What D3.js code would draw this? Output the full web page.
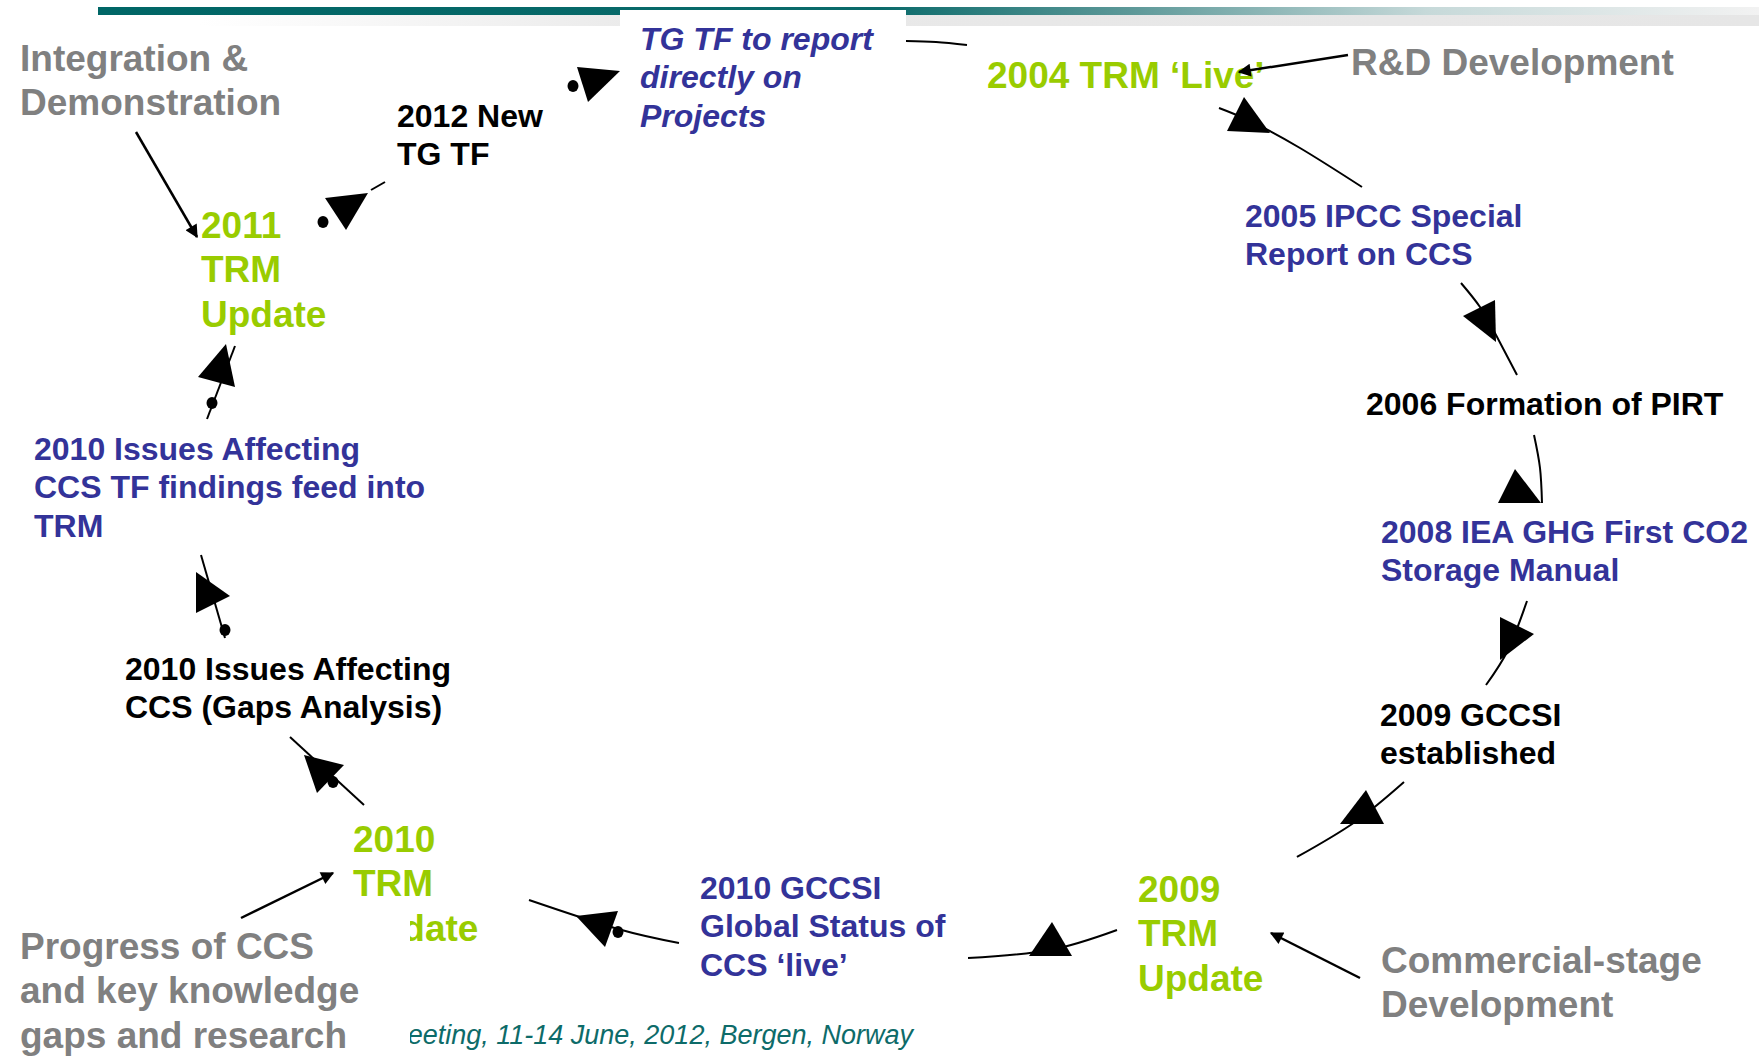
<!DOCTYPE html>
<html>
<head>
<meta charset="utf-8">
<script src="https://cdn.jsdelivr.net/npm/d3@7"></script>
<style>
  body { margin: 0; background: #fff; overflow: hidden; }
  text { font-family: "Liberation Sans", Arial, sans-serif; font-weight: bold; }
  text.footer { font-weight: normal; font-style: italic; }
</style>
</head>
<body>
<div id="chart"></div>
<script>
// Libellés du cycle (texte seulement)
const stageLabels = [
    ["R&D Development"],
    ["Commercial-stage", "Development"],
    ["Progress of CCS", "and key knowledge", "gaps and research"],
    ["Integration &", "Demonstration"]
];
const trmLabels = [
    ["2004 TRM ‘Live’"],
    ["2009", "TRM", "Update"],
    ["2010", "TRM", "Update"],
    ["2011", "TRM", "Update"]
];
const reportLabels = [
    ["2005 IPCC Special", "Report on CCS"],
    ["2008 IEA GHG First CO2", "Storage Manual"],
    ["2010 GCCSI", "Global Status of", "CCS ‘live’"],
    ["2010 Issues Affecting", "CCS TF findings feed into", "TRM"],
    ["TG TF to report", "directly on", "Projects"]
];
const eventLabels = [
    ["2006 Formation of PIRT"],
    ["2009 GCCSI", "established"],
    ["2010 Issues Affecting", "CCS (Gaps Analysis)"],
    ["2012 New", "TG TF"]
];
const footerText = "Meeting, 11-14 June, 2012, Bergen, Norway";

// Mise en page (coordonnées de la diapo, 1759 x 1056)
const stagePos = [[1351, 75], [1381, 973], [20, 959], [20, 71]];
const trmPos = [[987, 88], [1138, 902], [353, 852], [201, 238]];
const reportPos = [[1245, 227], [1381, 543], [700, 899], [34, 460], [640, 50]];
const eventPos = [[1366, 415], [1380, 726], [125, 680], [397, 127]];

// Connecteurs du cycle : tracé, pointe triangulaire, point éventuel
const links = [
    { path: [[906, 41], [936, 42], [967, 45]] },
    { path: [[1219, 108], [1250, 121], [1300, 148], [1362, 187]], head: [[1244, 97], [1227, 131], [1270, 133]] },
    { path: [[1461, 283], [1480, 307], [1496, 335], [1517, 375]], head: [[1463, 316], [1495, 300], [1496, 342]] },
    { path: [[1534, 435], [1540, 468], [1542, 503]], head: [[1515, 469], [1498, 503], [1541, 503]] },
    { path: [[1527, 601], [1508, 650], [1486, 685]], head: [[1500, 617], [1534, 634], [1500, 660]] },
    { path: [[1404, 782], [1355, 822], [1297, 857]], head: [[1366, 790], [1340, 824], [1384, 824]] },
    { path: [[1117, 930], [1050, 950], [968, 958]], head: [[1052, 922], [1029, 956], [1072, 956]] },
    { path: [[679, 943], [618, 929], [529, 900]], head: [[576, 916], [618, 911], [605, 947]], dot: [618, 932] },
    { path: [[364, 805], [290, 737]], head: [[304, 755], [344, 765], [317, 793]], dot: [333, 782] },
    { path: [[225, 638], [201, 555]], head: [[196, 572], [230, 596], [196, 613]], dot: [225, 630] },
    { path: [[207, 419], [235, 346]], head: [[226, 344], [198, 377], [235, 387]], dot: [212, 403] },
    { path: [[385, 182], [371, 190]], head: [[325, 198], [368, 193], [346, 230]], dot: [323, 222] },
    { path: [], head: [[577, 67], [620, 71], [588, 102]], dot: [573, 86] }
];

// Flèches des étapes (gris vers vert)
const stageArrows = [
    [[1348, 55], [1239, 72]],
    [[1360, 978], [1271, 933]],
    [[241, 918], [333, 873]],
    [[136, 132], [197, 237]]
];

const width = 1759;
const height = 1056;

const x = d3.scaleLinear().domain([0, 1759]).range([0, width]);
const y = d3.scaleLinear().domain([0, 1056]).range([0, height]);

const svg = d3.select("#chart")
    .append("svg")
    .attr("width", width)
    .attr("height", height);

const defs = svg.append("defs");

// Dégradé de la barre d'en-tête
const barGrad = defs.append("linearGradient")
    .attr("id", "barGrad")
    .attr("x1", "0%").attr("x2", "100%");
barGrad.append("stop").attr("offset", "0%").attr("stop-color", "#006666");
barGrad.append("stop").attr("offset", "47%").attr("stop-color", "#0a6a6a");
barGrad.append("stop").attr("offset", "62%").attr("stop-color", "#5c9898");
barGrad.append("stop").attr("offset", "80%").attr("stop-color", "#c6d9d9");
barGrad.append("stop").attr("offset", "100%").attr("stop-color", "#f2f2f2");

const bandGrad = defs.append("linearGradient")
    .attr("id", "bandGrad")
    .attr("x1", "0%").attr("x2", "100%");
bandGrad.append("stop").attr("offset", "0%").attr("stop-color", "#ffffff");
bandGrad.append("stop").attr("offset", "30%").attr("stop-color", "#e9e9e9");
bandGrad.append("stop").attr("offset", "100%").attr("stop-color", "#e6e6e6");

defs.append("marker")
    .attr("id", "arrow")
    .attr("viewBox", "0 0 10 10")
    .attr("refX", 9)
    .attr("refY", 5)
    .attr("markerUnits", "userSpaceOnUse")
    .attr("markerWidth", 17)
    .attr("markerHeight", 13)
    .attr("orient", "auto")
    .append("path")
    .attr("d", "M0,0 L10,5 L0,10 z")
    .attr("fill", "#000");

// En-tête
svg.append("rect")
    .attr("x", x(200)).attr("y", y(15))
    .attr("width", x(1759) - x(200)).attr("height", y(26) - y(15))
    .attr("fill", "url(#bandGrad)");
svg.append("rect")
    .attr("x", x(98)).attr("y", y(7))
    .attr("width", x(1759) - x(98)).attr("height", y(15) - y(7))
    .attr("fill", "url(#barGrad)");
svg.append("rect")
    .attr("x", x(620)).attr("y", y(10))
    .attr("width", x(906) - x(620)).attr("height", y(140) - y(10))
    .attr("fill", "#fff");

function drawLabels(group, labels, pos, opts) {
    const g = svg.append("g").attr("class", group);
    labels.forEach((lines, i) => {
        const t = g.append("text")
            .attr("x", x(pos[i][0]))
            .attr("y", y(pos[i][1]))
            .attr("fill", opts.color)
            .attr("font-size", opts.size + "px")
            .attr("font-style", opts.italic ? "italic" : "normal");
        lines.forEach((line, j) => {
            t.append("tspan")
                .attr("x", x(pos[i][0]))
                .attr("dy", j === 0 ? 0 : opts.size * 1.2)
                .text(line);
        });
    });
}

// Pied de page (début masqué par le cadre blanc)
svg.append("text")
    .attr("class", "footer")
    .attr("x", x(913))
    .attr("y", y(1044))
    .attr("text-anchor", "end")
    .attr("font-size", "27px")
    .attr("fill", "#0d6b69")
    .text(footerText);

drawLabels("trm", trmLabels, trmPos, { color: "#99cc00", size: 37 });

// Cadre blanc qui recouvre le bas gauche
svg.append("rect")
    .attr("x", 0).attr("y", y(905))
    .attr("width", x(410)).attr("height", height - y(905))
    .attr("fill", "#fff");

drawLabels("stage", stageLabels, stagePos, { color: "#808080", size: 37 });
drawLabels("report", reportLabels.slice(0, 4), reportPos.slice(0, 4), { color: "#333399", size: 32 });
drawLabels("report-it", reportLabels.slice(4), reportPos.slice(4), { color: "#333399", size: 32, italic: true });
drawLabels("event", eventLabels, eventPos, { color: "#000", size: 32 });

// Connecteurs
const line = d3.line()
    .x(d => x(d[0]))
    .y(d => y(d[1]))
    .curve(d3.curveNatural);

const linkG = svg.append("g").attr("class", "links");

linkG.selectAll("path.curve")
    .data(links.filter(d => d.path.length > 1))
    .enter()
    .append("path")
    .attr("class", "curve")
    .attr("d", d => line(d.path))
    .attr("fill", "none")
    .attr("stroke", "#000")
    .attr("stroke-width", 2);

linkG.selectAll("path.head")
    .data(links.filter(d => d.head))
    .enter()
    .append("path")
    .attr("class", "head")
    .attr("d", d => "M" + d.head.map(p => [x(p[0]), y(p[1])].join(",")).join("L") + "Z")
    .attr("fill", "#000");

linkG.selectAll("ellipse")
    .data(links.filter(d => d.dot))
    .enter()
    .append("ellipse")
    .attr("cx", d => x(d.dot[0]))
    .attr("cy", d => y(d.dot[1]))
    .attr("rx", 5.5)
    .attr("ry", 6)
    .attr("fill", "#000");

svg.append("g")
    .attr("class", "stage-arrows")
    .selectAll("line")
    .data(stageArrows)
    .enter()
    .append("line")
    .attr("x1", d => x(d[0][0]))
    .attr("y1", d => y(d[0][1]))
    .attr("x2", d => x(d[1][0]))
    .attr("y2", d => y(d[1][1]))
    .attr("stroke", "#000")
    .attr("stroke-width", 2.5)
    .attr("marker-end", "url(#arrow)");
</script>
</body>
</html>
